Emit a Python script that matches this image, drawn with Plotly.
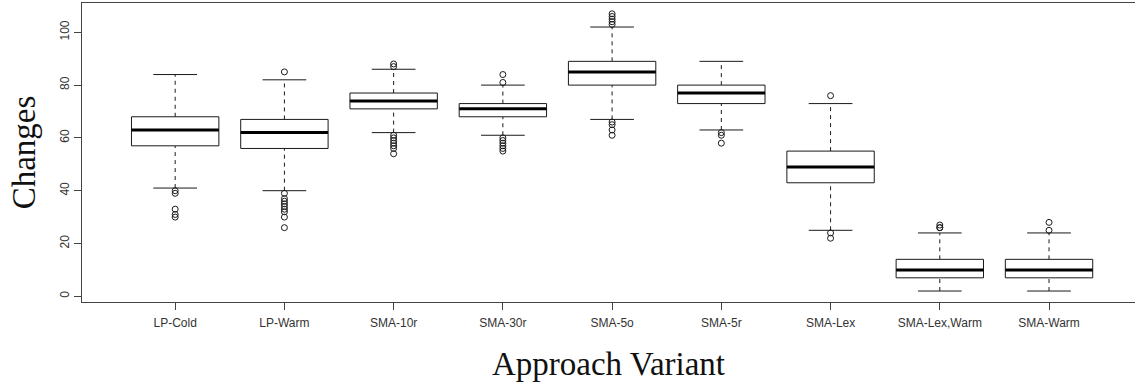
import plotly.graph_objects as go

# ---- data ----
categories = ["LP-Cold", "LP-Warm", "SMA-10r", "SMA-30r", "SMA-5o",
              "SMA-5r", "SMA-Lex", "SMA-Lex,Warm", "SMA-Warm"]
whisker_low = [41, 40, 62, 61, 67, 63, 25, 2, 2]
q1 = [57, 56, 71, 68, 80, 73, 43, 7, 7]
median = [63, 62, 74, 71, 85, 77, 49, 10, 10]
q3 = [68, 67, 77, 73, 89, 80, 55, 14, 14]
whisker_high = [84, 82, 86, 80, 102, 89, 73, 24, 24]
outliers = [
    [40, 39, 33, 31, 30],
    [85, 39, 37, 36, 35, 34, 33, 32, 30, 26],
    [88, 87, 61, 60, 59, 58, 57, 56, 54],
    [84, 81, 60, 59, 58, 57, 56, 55],
    [107, 106, 105, 104, 103, 66, 65, 63, 61],
    [62, 61, 58],
    [76, 24, 22],
    [27, 26, 26],
    [28, 25],
]
y_ticks = [0, 20, 40, 60, 80, 100]

BOX_HALF = 0.4
CAP_HALF = 0.2
LINE = "#1a1a1a"

xs = list(range(len(categories)))

box_x, box_y = [], []
med_x, med_y = [], []
wh_x, wh_y = [], []
cap_x, cap_y = [], []
out_x, out_y = [], []
for i in xs:
    box_x += [i - BOX_HALF, i + BOX_HALF, i + BOX_HALF, i - BOX_HALF, i - BOX_HALF, None]
    box_y += [q1[i], q1[i], q3[i], q3[i], q1[i], None]
    med_x += [i - BOX_HALF, i + BOX_HALF, None]
    med_y += [median[i], median[i], None]
    wh_x += [i, i, None, i, i, None]
    wh_y += [whisker_low[i], q1[i], None, q3[i], whisker_high[i], None]
    cap_x += [i - CAP_HALF, i + CAP_HALF, None, i - CAP_HALF, i + CAP_HALF, None]
    cap_y += [whisker_low[i], whisker_low[i], None, whisker_high[i], whisker_high[i], None]
    for v in outliers[i]:
        out_x.append(i)
        out_y.append(v)

fig = go.Figure()
fig.add_trace(go.Scatter(x=wh_x, y=wh_y, mode="lines",
                         line=dict(color=LINE, width=1, dash="4px,4px"),
                         hoverinfo="skip", showlegend=False))
fig.add_trace(go.Scatter(x=cap_x, y=cap_y, mode="lines",
                         line=dict(color=LINE, width=1),
                         hoverinfo="skip", showlegend=False))
fig.add_trace(go.Scatter(x=box_x, y=box_y, mode="lines",
                         line=dict(color=LINE, width=1),
                         fill="toself", fillcolor="white",
                         hoverinfo="skip", showlegend=False))
fig.add_trace(go.Scatter(x=med_x, y=med_y, mode="lines",
                         line=dict(color="black", width=3),
                         showlegend=False))
fig.add_trace(go.Scatter(x=out_x, y=out_y, mode="markers",
                         marker=dict(symbol="circle-open", size=6, color=LINE,
                                     line=dict(color=LINE, width=1)),
                         showlegend=False))

fig.update_layout(
    width=1135, height=386,
    margin=dict(l=82, r=0, t=3, b=84),
    paper_bgcolor="white", plot_bgcolor="white",
    font=dict(family="Liberation Sans, Arial", size=12, color="#333"),
    xaxis=dict(
        range=[-0.853, 8.787],
        tickmode="array", tickvals=xs, ticktext=categories,
        showline=True, linecolor="#444", linewidth=1, mirror=True,
        ticks="outside", ticklen=7, tickcolor="#444",
        ticklabelstandoff=3,
        showgrid=False, zeroline=False,
        tickfont=dict(family="Liberation Sans, Arial", size=12, color="#333"),
        title=dict(text="Approach Variant",
                   font=dict(family="Liberation Serif, serif", size=33, color="#111"),
                   standoff=22),
    ),
    yaxis=dict(
        range=[-2.16, 111.1],
        tickmode="array", tickvals=y_ticks,
        showline=True, linecolor="#444", linewidth=1,
        ticks="outside", ticklen=7, tickcolor="#444",
        tickangle=-90,
        showgrid=False, zeroline=False,
        tickfont=dict(family="Liberation Sans, Arial", size=12, color="#333"),
        title=dict(text="Changes",
                   font=dict(family="Liberation Serif, serif", size=33, color="#111"),
                   standoff=12),
    ),
)

fig.write_html("out.html")
